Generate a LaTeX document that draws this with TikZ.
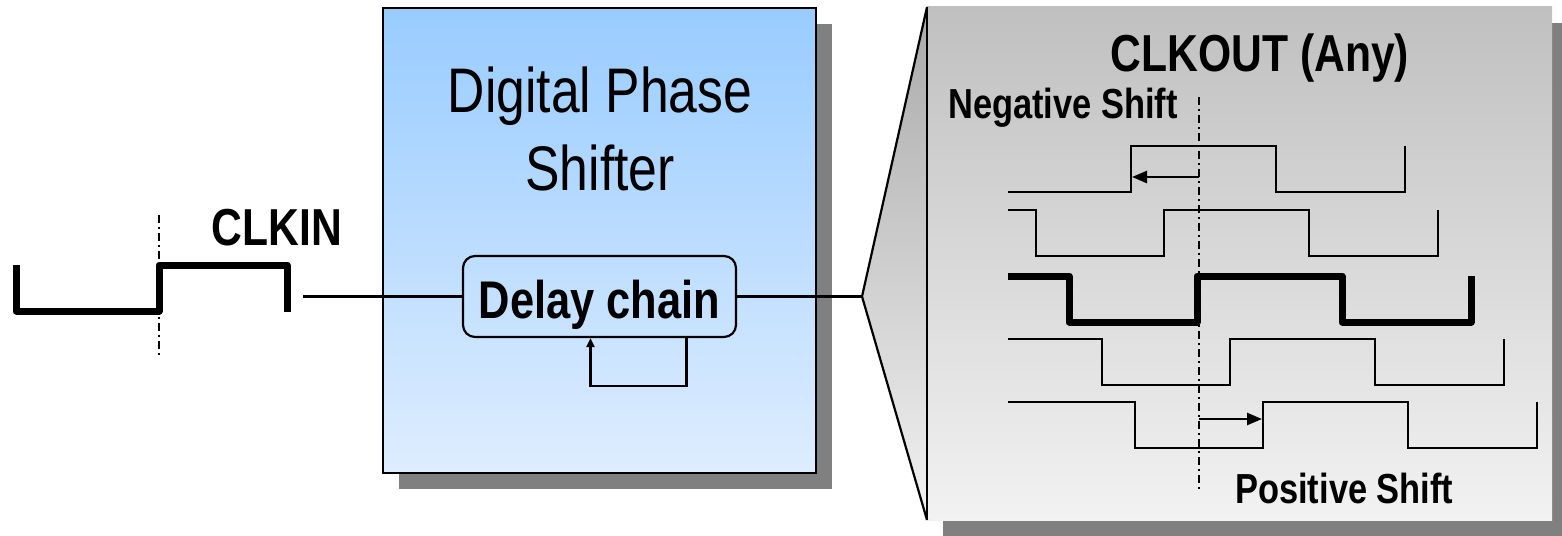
\documentclass[tikz,border=0pt]{standalone}
\usepackage{fontspec}
\setmainfont{Liberation Sans}[FakeStretch=0.82]
\usetikzlibrary{arrows.meta}
\definecolor{boxtop}{RGB}{153,204,255}
\definecolor{boxbot}{RGB}{222,237,255}
\definecolor{paneltop}{RGB}{192,192,192}
\definecolor{panelbot}{RGB}{242,242,242}
\definecolor{wedgetop}{RGB}{170,170,170}
\definecolor{shadowgrey}{RGB}{128,128,128}
\begin{document}
\begin{tikzpicture}[x=1pt,y=-1pt,
  thinwave/.style={line width=2.5pt, line join=miter},
  boldwave/.style={line width=7pt, line join=round},
  marker/.style={line width=2.2pt, dash pattern=on 8pt off 4pt on 2pt off 4pt},
  wire/.style={line width=2.2pt},
  frame/.style={line width=2.8pt},
  shiftarrow/.style={line width=2.5pt, -{Triangle[length=15pt,width=12pt]}},
  looparrow/.style={line width=2.2pt, -{Triangle[length=9pt,width=8pt]}},
  biglabel/.style={inner sep=0pt, anchor=base, font=\fontsize{63}{76}\selectfont},
  siglabel/.style={inner sep=0pt, anchor=base, font=\bfseries\fontsize{52}{62}\selectfont},
  shiftlabel/.style={inner sep=0pt, anchor=base west, font=\bfseries\fontsize{42}{50}\selectfont},
]
\useasboundingbox (0,0) rectangle (1562,535);

% ---- input clock ----
\draw[marker] (159,215) -- (159,355);
\draw[boldwave] (16,265) -- (16,311) -- (159,311) -- (159,265) -- (287,265) -- (287,312);
\node[siglabel] (clkin) at (277,245) {CLKIN};
\coordinate (clkinend) at (303,296.5);

% ---- phase shifter block ----
\fill[shadowgrey] (399,24) rectangle (832,489);
\node[frame, draw, top color=boxtop, bottom color=boxbot, minimum width=433pt,
      minimum height=465pt, inner sep=0pt] (dps) at (599.5,240.5) {};
\node[biglabel] (title1) at (600,112) {Digital Phase};
\node[biglabel] (title2) at (600,190) {Shifter};
\node[wire, draw, rounded corners=12pt, minimum width=273pt, minimum height=81pt,
      inner sep=0pt, text height=43pt, text depth=0pt,
      font=\bfseries\fontsize{53}{62}\selectfont] (delay) at (599.5,296.5) {Delay chain};
\draw[looparrow] ([xshift=87pt]delay.south) -- ++(0,48) -- ++(-96,0)
  -- ([xshift=-9pt]delay.south);

% ---- wires ----
\coordinate (tip) at (862,296.5);
\coordinate (wtop) at (927,7);
\coordinate (wbot) at (927,520);
\draw[wire] (clkinend) -- (delay.west);
\draw[wire] (delay.east) -- (tip);

% ---- output panel ----
\fill[shadowgrey] (943,23) rectangle (1570,540);
\fill[top color=paneltop, bottom color=panelbot] (927,7) rectangle (1552,520);
\fill[top color=wedgetop, bottom color=panelbot] (tip) -- (wtop) -- (wbot) -- cycle;
\draw[wire] (wtop) -- (tip) -- (wbot);
\draw[wire] (wtop) -- (wbot);

\node[siglabel] (clkout) at (1260,71) {CLKOUT (Any)};
\node[shiftlabel] (neg) at (948,118) {Negative Shift};
\node[shiftlabel] (pos) at (1235,503) {Positive Shift};

% ---- shifted output clocks ----
% each row: high level, rising edge, line style
\foreach \hi/\r/\sty in {146/1131/thinwave, 210/1164/thinwave, 276/1197/boldwave,
                          339/1230/thinwave, 402/1263/thinwave}{
  \pgfmathsetmacro{\lo}{\hi+46}
  \pgfmathsetmacro{\pf}{\r-128}
  \pgfmathsetmacro{\fa}{\r+145}
  \pgfmathsetmacro{\er}{\fa+129}
  \ifdim\pf pt<1008pt
    \draw[\sty] (1008,\lo) -- (\r,\lo) -- (\r,\hi) -- (\fa,\hi) -- (\fa,\lo)
      -- (\er,\lo) -- (\er,\hi);
  \else
    \draw[\sty] (1008,\hi) -- (\pf,\hi) -- (\pf,\lo) -- (\r,\lo) -- (\r,\hi)
      -- (\fa,\hi) -- (\fa,\lo) -- (\er,\lo) -- (\er,\hi);
  \fi
}

\draw[marker] (1199,97) -- (1199,492);
\coordinate (negfrom) at (1199,177);
\coordinate (negto) at (1132,177);
\coordinate (posfrom) at (1199,419);
\coordinate (posto) at (1262,419);
\draw[shiftarrow] (negfrom) -- (negto);
\draw[shiftarrow] (posfrom) -- (posto);
\end{tikzpicture}
\end{document}
